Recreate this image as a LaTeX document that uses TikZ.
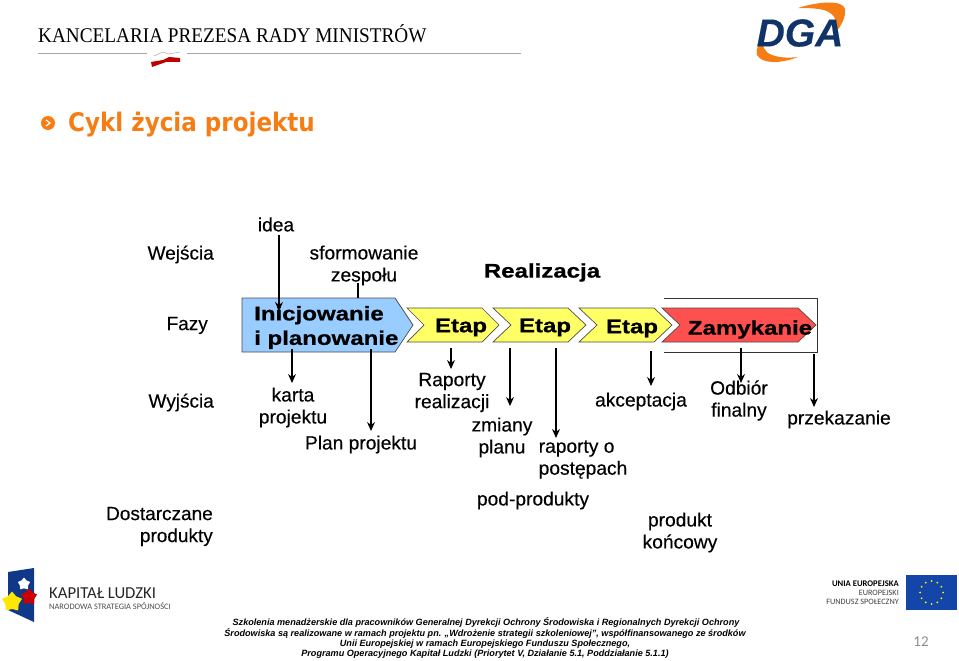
\documentclass[tikz,border=0pt]{standalone}
\usepackage{fontspec}
\setmainfont{Liberation Sans}
\newfontfamily\bodyfont[FakeBold=0.3]{Liberation Sans}
\newfontfamily\widefont[FakeStretch=1.22,BoldFeatures={FakeBold=0.8}]{Liberation Sans}
\newfontfamily\titlefont[FakeStretch=0.9]{DejaVu Sans}
\newfontfamily\headfont[FakeStretch=0.92]{Liberation Serif}
\newfontfamily\logofont{Carlito}
\usetikzlibrary{arrows,arrows.meta,shapes,positioning}
\definecolor{phaseBlue}{RGB}{153,204,255}
\definecolor{phaseYellow}{RGB}{255,255,102}
\definecolor{phaseRed}{RGB}{255,80,80}
\definecolor{titleOrange}{RGB}{245,125,20}
\definecolor{dgaBlue}{RGB}{16,52,104}
\definecolor{euBlue}{RGB}{20,70,170}
\tikzstyle{arrow} = [line width=1.1pt,-{Stealth[length=9pt,width=8pt]}]
\tikzstyle{plain} = [line width=1.1pt]
\tikzstyle{txt} = [inner sep=0pt, align=center, yshift=-1.5pt, font=\bodyfont\fontsize{19.2}{22}\selectfont]
\tikzstyle{rowLabel} = [inner sep=0pt, align=right, anchor=east, yshift=-1.5pt, font=\bodyfont\fontsize{19}{22}\selectfont]
\tikzstyle{phaseText} = [inner sep=0pt, align=left, yshift=-1.5pt, font=\widefont\bfseries\fontsize{19.7}{24.5}\selectfont]
\tikzstyle{foot} = [inner sep=0pt, font=\bfseries\itshape\fontsize{9.1}{11}\selectfont]
\tikzstyle{phase} = [draw=black!70, line width=0.7pt]
\begin{document}
\begin{tikzpicture}[x=1pt,y=-1pt]
\useasboundingbox (0,0) rectangle (959,661);
% header
\node (kprm) [inner sep=0pt, anchor=west, font=\headfont\fontsize{20.9}{24}\selectfont] at (38,34) {KANCELARIA PREZESA RADY MINISTRÓW};
\coordinate (ruleA) at (38,53);
\coordinate (ruleB) at (147,53);
\coordinate (ruleC) at (187,53);
\coordinate (ruleD) at (521,53);
\draw [black!35, line width=0.9pt] (ruleA) -- (ruleB);
\draw [black!35, line width=0.9pt] (ruleC) -- (ruleD);
\fill [red!75!black] (151,62) -- (163,60) -- (169,57) -- (180,58) -- (180,62) -- (166,62) -- (152,67) -- cycle;
\draw [black!40, line width=0.4pt] (154,56) -- (163,52) -- (169,54) -- (180,52);
% DGA logo
\fill [titleOrange] (798,8) .. controls (820,1) and (843,0) .. (845,9) .. controls (846,18) and (841,26) .. (835,33) .. controls (838,22) and (836,14) .. (824,10) .. controls (815,8) and (806,8) .. (798,8) -- cycle;
\fill [titleOrange] (798,57) .. controls (780,64) and (762,64) .. (757,55) .. controls (755,48) and (760,42) .. (765,37) .. controls (761,46) and (764,52) .. (772,55) .. controls (780,58) and (790,58) .. (798,57) -- cycle;
\node (dga) [inner sep=0pt, text=dgaBlue, font=\bodyfont\bfseries\itshape\fontsize{39}{39}\selectfont] at (800,33) {DGA};
% title
\fill [titleOrange] (48,123) circle (7);
\coordinate (bulletA) at (46,120);
\coordinate (bulletB) at (50,123);
\coordinate (bulletC) at (46,126);
\draw [white, line width=1.2pt] (bulletA) -- (bulletB) -- (bulletC);
\node (title) [inner sep=0pt, anchor=west, text=titleOrange, font=\titlefont\bfseries\fontsize{25.6}{30}\selectfont] at (68,125) {Cykl życia projektu};
% phases
\draw [phase, fill=phaseBlue] (242,298) -- (395,298) -- (413,325) -- (395,352) -- (242,352) -- cycle;
\draw [phase, fill=phaseYellow] (407,308) -- (482,308) -- (499,325) -- (482,342) -- (407,342) -- (424,325) -- cycle;
\draw [phase, fill=phaseYellow] (493,308) -- (568,308) -- (586,325) -- (568,342) -- (493,342) -- (511,325) -- cycle;
\draw [phase, fill=phaseYellow] (579,308) -- (654,308) -- (672,325) -- (654,342) -- (579,342) -- (597,325) -- cycle;
\draw [phase, fill=phaseRed] (662,308) -- (798,308) -- (816,325) -- (798,342) -- (662,342) -- (680,325) -- cycle;
\coordinate (frameA) at (664,298);
\coordinate (frameB) at (817,298);
\coordinate (frameC) at (817,352);
\coordinate (frameD) at (664,352);
\draw [line width=0.9pt, black!80] (frameA) -- (frameB) -- (frameC) -- (frameD);
\node (inicjowanie) [phaseText, anchor=west] at (254,326) {Inicjowanie\\i planowanie};
\node (etapA) [phaseText] at (461,326) {Etap};
\node (etapB) [phaseText] at (545,326) {Etap};
\node (etapC) [phaseText] at (632,327) {Etap};
\node (zamykanie) [phaseText] at (750,328) {Zamykanie};
\node (realizacja) [phaseText] at (542,271) {Realizacja};
% row labels
\node (wejscia) [rowLabel] at (214,253) {Wejścia};
\node (fazy) [rowLabel] at (208,324) {Fazy};
\node (wyjscia) [rowLabel] at (214,401) {Wyjścia};
\node (dostarczane) [rowLabel] at (213,525) {Dostarczane\\produkty};
% labels
\node (idea) [txt] at (276,223) {idea};
\node (zespol) [txt] at (364,264) {sformowanie\\zespołu};
\node (karta) [txt] at (293,406) {karta\\projektu};
\node (plan) [txt] at (361,443) {Plan projektu};
\node (raporty) [txt] at (452,391) {Raporty\\realizacji};
\node (zmiany) [txt] at (502,436) {zmiany\\planu};
\node (postepy) [txt, align=left] at (583,458) {raporty o\\postępach};
\node (akceptacja) [txt] at (641,400) {akceptacja};
\node (odbior) [txt] at (739,399) {Odbiór\\finalny};
\node (przekazanie) [txt] at (839,418) {przekazanie};
\node (podprodukty) [txt] at (533,499) {pod-produkty};
\node (koncowy) [txt] at (680,531) {produkt\\końcowy};
% connectors
\coordinate (ideaEnd) at (279,311);
\coordinate (ideaStart) at (279,235);
\coordinate (zespolEnd) at (358,298);
\coordinate (zespolStart) at (358,283);
\coordinate (kartaStart) at (292,349);
\coordinate (kartaEnd) at (292,383);
\coordinate (planStart) at (371,349);
\coordinate (planEnd) at (371,431);
\coordinate (raportyStart) at (451,348);
\coordinate (raportyEnd) at (451,369);
\coordinate (zmianyStart) at (510,348);
\coordinate (zmianyEnd) at (510,406);
\coordinate (postepyStart) at (556,348);
\coordinate (postepyEnd) at (556,438);
\coordinate (akceptacjaStart) at (651,351);
\coordinate (akceptacjaEnd) at (651,386);
\coordinate (odbiorStart) at (741,348);
\coordinate (odbiorEnd) at (741,383);
\coordinate (przekazanieStart) at (814,354);
\coordinate (przekazanieEnd) at (814,407);
\draw [arrow] (ideaStart) -- (ideaEnd);
\draw [plain] (zespolStart) -- (zespolEnd);
\draw [arrow] (kartaStart) -- (kartaEnd);
\draw [arrow] (planStart) -- (planEnd);
\draw [arrow] (raportyStart) -- (raportyEnd);
\draw [arrow] (zmianyStart) -- (zmianyEnd);
\draw [arrow] (postepyStart) -- (postepyEnd);
\draw [arrow] (akceptacjaStart) -- (akceptacjaEnd);
\draw [arrow] (odbiorStart) -- (odbiorEnd);
\draw [arrow] (przekazanieStart) -- (przekazanieEnd);
% footer logos
\fill [euBlue!80!black] (8,572) -- (34,568) -- (34,622) -- (8,610) -- cycle;
\node (starWhite) [star, star points=5, fill=white, inner sep=0pt, minimum size=13pt] at (24,584) {};
\node (starRed) [star, star points=5, fill=red!80!black, inner sep=0pt, minimum size=17pt] at (29,597) {};
\node (starYellow) [star, star points=5, fill=yellow!90!orange, inner sep=0pt, minimum size=21pt] at (12,602) {};
\node (kapital) [inner sep=0pt, anchor=west, font=\logofont\fontsize{16.7}{18}\selectfont, text=black!85] at (49,593) {KAPITAŁ LUDZKI};
\node (strategia) [inner sep=0pt, anchor=west, font=\logofont\fontsize{8.4}{9}\selectfont, text=black!70] at (49,606) {NARODOWA STRATEGIA SPÓJNOŚCI};
\node (uniaA) [inner sep=0pt, anchor=east, font=\logofont\bfseries\fontsize{8.6}{9}\selectfont] at (899,584) {UNIA EUROPEJSKA};
\node (uniaB) [inner sep=0pt, anchor=east, font=\logofont\fontsize{8.2}{9}\selectfont, text=black!75] at (899,593) {EUROPEJSKI};
\node (uniaC) [inner sep=0pt, anchor=east, font=\logofont\fontsize{8.2}{9}\selectfont, text=black!75] at (899,602) {FUNDUSZ SPOŁECZNY};
\fill [euBlue] (906,575) rectangle (957,610);
\foreach \a in {0,30,...,330} \fill [yellow] ({931.5+11.5*cos(\a)},{592.5+11.5*sin(\a)}) circle (1);
% footer text
\node (footA) [foot] at (486,622) {Szkolenia menadżerskie dla pracowników Generalnej Dyrekcji Ochrony Środowiska i Regionalnych Dyrekcji Ochrony};
\node (footB) [foot] at (485,633) {Środowiska są realizowane w ramach projektu pn. „Wdrożenie strategii szkoleniowej”, współfinansowanego ze środków};
\node (footC) [foot] at (485,644) {Unii Europejskiej w ramach Europejskiego Funduszu Społecznego,};
\node (footD) [foot] at (485,654) {Programu Operacyjnego Kapitał Ludzki (Priorytet V, Działanie 5.1, Poddziałanie 5.1.1)};
\node (page) [inner sep=0pt, font=\logofont\fontsize{15}{16}\selectfont, text=black!45] at (921,642) {12};
\end{tikzpicture}
\end{document}
